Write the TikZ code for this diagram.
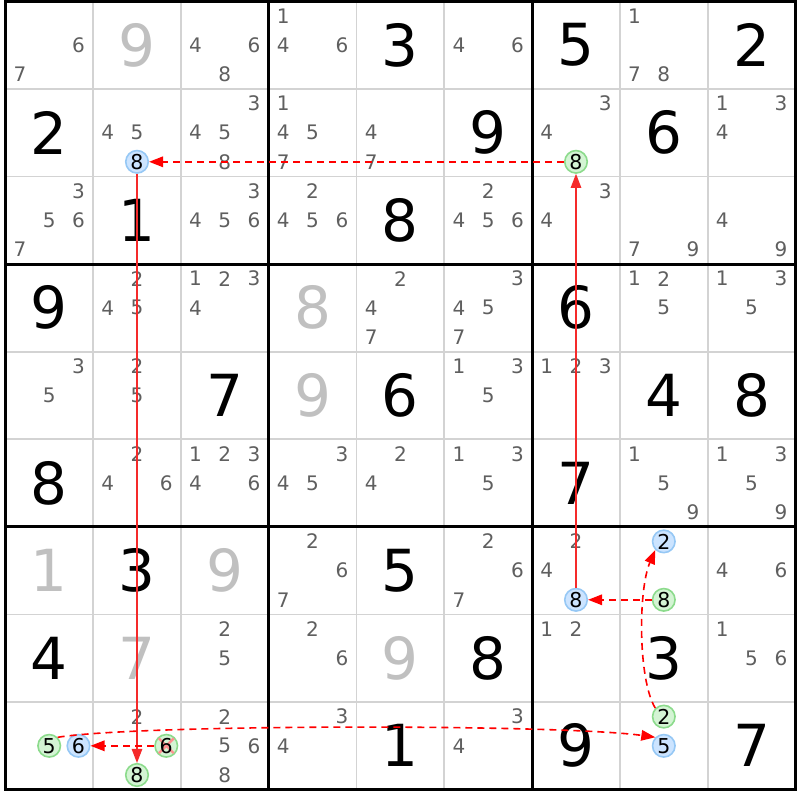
\documentclass[tikz,border=0pt]{standalone}
\usepackage{fontspec}
\setmainfont{DejaVu Sans}
\usetikzlibrary{arrows.meta}
\definecolor{candgray}{HTML}{5F5F5F}
\definecolor{solvgray}{HTML}{C0C0C0}
\definecolor{gridgray}{HTML}{D3D3D3}
\definecolor{cgreenf}{HTML}{D4F4D4}
\definecolor{cgreend}{HTML}{8CDB8C}
\definecolor{cbluef}{HTML}{CCE4FF}
\definecolor{cblued}{HTML}{96C8F5}
\definecolor{xpink}{HTML}{FF9090}
\definecolor{linkred}{HTML}{F52A2A}
\newcommand\SDcands[3]{%
  \foreach \d in {#3}{%
    \pgfmathsetmacro\px{5.3+87.8*(#2-1)+14.633*(2*mod(\d-1,3)+1)}%
    \pgfmathsetmacro\py{1.2+87.6*(#1-1)+14.6*(2*floor((\d-1)/3)+1)}%
    \node[cand] (k#1#2\d) at (\px,\py) {\d};
  }}
\newcommand\SDcirc[4]{%
    \pgfmathsetmacro\px{5.3+87.8*(#3-1)+14.633*(2*mod(#4-1,3)+1)}%
    \pgfmathsetmacro\py{1.2+87.6*(#2-1)+14.6*(2*floor((#4-1)/3)+1)}%
    \node[#1] (k#2#3#4) at (\px,\py) {#4};}
\newcommand\SDgiven[3]{%
  \node[given] (g#1#2) at ({5.3+87.8*(#2-0.5)},{1.2+87.6*(#1-0.5)}) {#3};}
\newcommand\SDsolved[3]{%
  \node[solved] (g#1#2) at ({5.3+87.8*(#2-0.5)},{1.2+87.6*(#1-0.5)}) {#3};}
\begin{document}
\begin{tikzpicture}[x=1pt,y=-1pt,
  cand/.style={inner sep=0pt, text=candgray, font=\fontsize{20}{20}\selectfont},
  given/.style={inner sep=0pt, text=black, font=\fontsize{58}{58}\selectfont},
  solved/.style={given, text=solvgray},
  gcirc/.style={circle, draw=cgreend, fill=cgreenf, line width=1.6pt, minimum size=22.5pt, inner sep=0pt, text=black, font=\fontsize{20.5}{20.5}\selectfont},
  bcirc/.style={gcirc, draw=cblued, fill=cbluef},
  link/.style={linkred, line width=1.2pt, -{Triangle[length=14pt,width=10.5pt]}},
  weak/.style={red, line width=1.6pt, dash pattern=on 7pt off 5pt, -{Triangle[length=14pt,width=10.5pt]}},
  thin/.style={gridgray, line width=1.8pt},
  thick/.style={black, line width=3pt, line cap=rect},
]
\useasboundingbox[fill=white] (0,0) rectangle (800,800);
% grid
\foreach \i in {1,2,4,5,7,8}{
  \draw[thin] ({5.3+87.8*\i},1.2) -- ({5.3+87.8*\i},789.6);
  \draw[thin] (5.3,{1.2+87.6*\i}) -- (795.5,{1.2+87.6*\i});
}
\foreach \i in {0,3,6,9}{
  \draw[thick] ({5.3+87.8*\i},1.2) -- ({5.3+87.8*\i},789.6);
  \draw[thick] (5.3,{1.2+87.6*\i}) -- (795.5,{1.2+87.6*\i});
}
% row 1
\SDcands{1}{1}{6,7} \SDsolved{1}{2}{9} \SDcands{1}{3}{4,6,8} \SDcands{1}{4}{1,4,6}
\SDgiven{1}{5}{3} \SDcands{1}{6}{4,6} \SDgiven{1}{7}{5} \SDcands{1}{8}{1,7,8} \SDgiven{1}{9}{2}
% row 2
\SDgiven{2}{1}{2} \SDcands{2}{2}{4,5} \SDcirc{bcirc}{2}{2}{8} \SDcands{2}{3}{3,4,5,8}
\SDcands{2}{4}{1,4,5,7} \SDcands{2}{5}{4,7} \SDgiven{2}{6}{9} \SDcands{2}{7}{3,4}
\SDcirc{gcirc}{2}{7}{8} \SDgiven{2}{8}{6} \SDcands{2}{9}{1,3,4}
% row 3
\SDcands{3}{1}{3,5,6,7} \SDgiven{3}{2}{1} \SDcands{3}{3}{3,4,5,6} \SDcands{3}{4}{2,4,5,6}
\SDgiven{3}{5}{8} \SDcands{3}{6}{2,4,5,6} \SDcands{3}{7}{3,4} \SDcands{3}{8}{7,9} \SDcands{3}{9}{4,9}
% row 4
\SDgiven{4}{1}{9} \SDcands{4}{2}{2,4,5} \SDcands{4}{3}{1,2,3,4} \SDsolved{4}{4}{8}
\SDcands{4}{5}{2,4,7} \SDcands{4}{6}{3,4,5,7} \SDgiven{4}{7}{6} \SDcands{4}{8}{1,2,5} \SDcands{4}{9}{1,3,5}
% row 5
\SDcands{5}{1}{3,5} \SDcands{5}{2}{2,5} \SDgiven{5}{3}{7} \SDsolved{5}{4}{9} \SDgiven{5}{5}{6}
\SDcands{5}{6}{1,3,5} \SDcands{5}{7}{1,2,3} \SDgiven{5}{8}{4} \SDgiven{5}{9}{8}
% row 6
\SDgiven{6}{1}{8} \SDcands{6}{2}{2,4,6} \SDcands{6}{3}{1,2,3,4,6} \SDcands{6}{4}{3,4,5}
\SDcands{6}{5}{2,4} \SDcands{6}{6}{1,3,5} \SDgiven{6}{7}{7} \SDcands{6}{8}{1,5,9} \SDcands{6}{9}{1,3,5,9}
% row 7
\SDsolved{7}{1}{1} \SDgiven{7}{2}{3} \SDsolved{7}{3}{9} \SDcands{7}{4}{2,6,7} \SDgiven{7}{5}{5}
\SDcands{7}{6}{2,6,7} \SDcands{7}{7}{2,4} \SDcirc{bcirc}{7}{7}{8} \SDcirc{bcirc}{7}{8}{2}
\SDcirc{gcirc}{7}{8}{8} \SDcands{7}{9}{4,6}
% row 8
\SDgiven{8}{1}{4} \SDsolved{8}{2}{7} \SDcands{8}{3}{2,5} \SDcands{8}{4}{2,6} \SDsolved{8}{5}{9}
\SDgiven{8}{6}{8} \SDcands{8}{7}{1,2} \SDgiven{8}{8}{3} \SDcands{8}{9}{1,5,6}
% row 9
\SDcirc{gcirc}{9}{1}{5} \SDcirc{bcirc}{9}{1}{6} \SDcands{9}{2}{2}
\node[gcirc] (k926) at ({5.3+87.8+14.633*5},{1.2+87.6*8+14.6*3}) {};
\draw[xpink, line width=2.4pt, shorten <=1.5pt, shorten >=1.5pt] (k926.north west) -- (k926.south east);
\draw[xpink, line width=2.4pt, shorten <=1.5pt, shorten >=1.5pt] (k926.north east) -- (k926.south west);
\node[text=black, inner sep=0pt, font=\fontsize{20.5}{20.5}\selectfont] (k926t) at (k926) {6};
\SDcirc{gcirc}{9}{2}{8} \SDcands{9}{3}{2,5,6,8} \SDcands{9}{4}{3,4} \SDgiven{9}{5}{1}
\SDcands{9}{6}{3,4} \SDgiven{9}{7}{9} \SDcirc{gcirc}{9}{8}{2} \SDcirc{bcirc}{9}{8}{5} \SDgiven{9}{9}{7}
% links
\draw[weak] (k278) -- (k228);
\draw[link] (k228) -- (k928);
\draw[weak] (k926) -- (k916);
\draw[weak] (k915.north east) .. controls (140,724) and (560,724) .. (k985.north west);
\draw[weak] (k982.north west) .. controls (638,680) and (638,590) .. (k782.south west);
\draw[weak] (k788) -- (k778);
\draw[link] (k778) -- (k278);
\end{tikzpicture}
\end{document}
